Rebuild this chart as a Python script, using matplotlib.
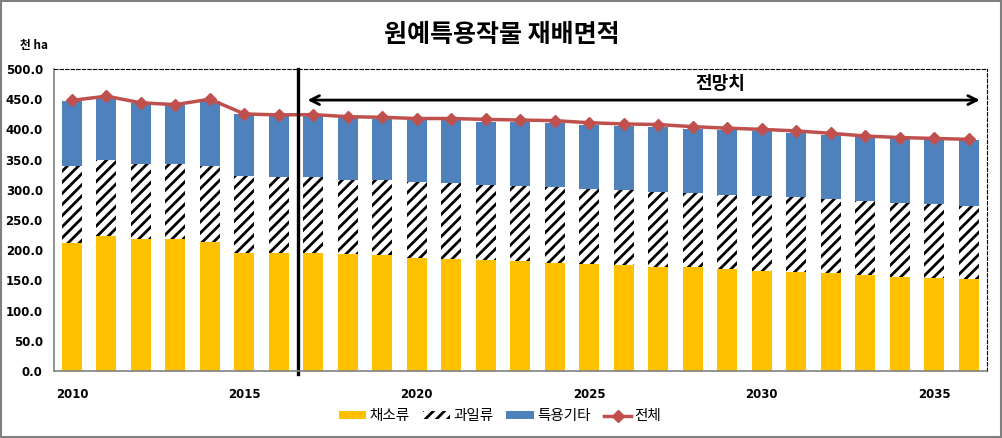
import numpy as np
import matplotlib.pyplot as plt
from matplotlib.patches import Rectangle

plt.rcParams['font.family'] = ['Noto Sans CJK KR', 'DejaVu Sans']
plt.rcParams['hatch.linewidth'] = 2.0

years = list(range(2010, 2037))
채소류 = [212, 224, 219, 219, 214, 196, 196, 196, 194, 191.5, 187.5, 186, 184, 182.5,
       179.5, 177.5, 176, 172.5, 171.5, 168.5, 166, 164.5, 161.5, 159, 156, 153.5, 152]
과일류 = [127, 126, 124, 124, 125, 126, 125, 124.5, 123, 124, 126, 126, 124.5, 124.5,
       125, 124.5, 124, 124.5, 124, 123.5, 124.5, 123, 122.5, 122.5, 122.5, 122.5, 121.5]
특용기타 = [108.5, 101.5, 101, 98, 108.5, 103.5, 102.5, 102, 102, 101.5, 102, 103.5, 104.5, 105,
        105.5, 105, 105.6, 107.5, 105.5, 107, 107, 107, 107, 106.5, 106.5, 107.5, 109]
전체 = [448, 455, 444, 441, 450, 425.5, 424, 424.5, 421, 420, 418, 418, 416.5, 415.5,
      414.5, 411, 409, 408, 404.5, 402, 400, 397.5, 393.5, 389, 386.5, 385, 383.5]

x = np.arange(len(years))
veg = np.array(채소류)
fruit = np.array(과일류)
spec = np.array(특용기타)

fig = plt.figure(figsize=(10.03, 4.38), dpi=100)
ax = fig.add_axes([0.0538, 0.153, 0.930, 0.6895])

w = 0.58
b1 = ax.bar(x, veg, w, color='#FFC000', label='채소류')
b2 = ax.bar(x, fruit, w, bottom=veg, color='white', edgecolor='black', linewidth=0,
            hatch='///', label='과일류')
b3 = ax.bar(x, spec, w, bottom=veg + fruit, color='#4F81BD', label='특용기타')
l1, = ax.plot(x, 전체, color='#C0504D', lw=2.5, marker='D', ms=6, label='전체')

ax.set_xlim(-0.52, 26.52)
ax.set_ylim(0, 500)
ax.set_yticks(np.arange(0, 501, 50))
ax.set_yticklabels([f'{v:.1f}' for v in np.arange(0, 501, 50)],
                   fontsize=8.5, fontweight='bold', family=['DejaVu Sans'])
ticks = [i for i, y in enumerate(years) if y % 5 == 0]
ax.set_xticks(ticks)
ax.set_xticklabels([str(years[i]) for i in ticks], fontsize=8.5, fontweight='bold',
                   family=['DejaVu Sans'])
ax.tick_params(length=0)
ax.tick_params(axis='x', pad=12)
ax.tick_params(axis='y', pad=8)

for s in ['left', 'bottom']:
    ax.spines[s].set_color('#808080')
    ax.spines[s].set_linewidth(1.2)
for s in ['top', 'right']:
    ax.spines[s].set_linestyle((0, (3, 2)))
    ax.spines[s].set_linewidth(0.8)
    ax.spines[s].set_color('black')

# 전망치 구분선과 화살표
ax.axvline(6.55, ymin=-0.01, ymax=1, color='black', lw=2.4, clip_on=False)
ax.annotate('', xy=(6.75, 448.5), xytext=(26.4, 448.5),
            arrowprops=dict(arrowstyle='<->', color='black', lw=2, mutation_scale=16))
ax.text(18.8, 476, '전망치', ha='center', va='center', fontsize=13, fontweight='bold')

fig.text(0.5, 0.92, '원예특용작물 재배면적', ha='center', va='center',
         fontsize=18, fontweight='bold')
fig.text(0.034, 0.897, '천 ha', ha='center', va='center', fontsize=8.5, fontweight='bold')

ax.legend([b1, b2, b3, l1], ['채소류', '과일류', '특용기타', '전체'],
          loc='center', bbox_to_anchor=(0.478, -0.15), ncol=4, frameon=False,
          fontsize=10.5, handlelength=1.9, handleheight=0.45, columnspacing=0.9,
          handletextpad=0.2)

fig.patches.append(Rectangle((0.001, 0.002), 0.997, 0.995, transform=fig.transFigure,
                             fill=False, edgecolor='#808080', lw=1.5))

fig.savefig('out.png', dpi=100)
